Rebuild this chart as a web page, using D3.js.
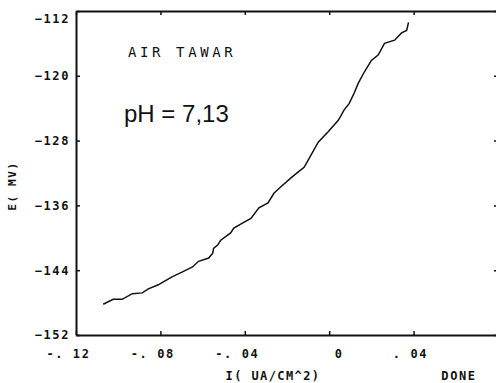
<!DOCTYPE html>
<html>
<head>
<meta charset="utf-8">
<script src="https://cdn.jsdelivr.net/npm/d3@7"></script>
<style>
  body { margin: 0; background: #fff; }
  svg { display: block; }
  .pix { font-family: "DejaVu Sans Mono", monospace; font-weight: bold; fill: #111; }
</style>
</head>
<body>
<svg id="chart" width="496" height="383"></svg>
<script>
const width = 496, height = 383;
const margin = { top: 11, right: -2, bottom: 48, left: 76 };

// current density I (uA/cm^2)
const currentI = [
  -0.1071, -0.1024, -0.0981, -0.0933, -0.0886, -0.0857, -0.0810, -0.0790,
  -0.0743, -0.0695, -0.0648, -0.0619, -0.0571, -0.0552, -0.0548, -0.0529,
  -0.0514, -0.0467, -0.0452, -0.0405, -0.0371, -0.0333, -0.0290, -0.0262,
  -0.0229, -0.0181, -0.0148, -0.0119, -0.0095, -0.0052, -0.0005, 0.0043,
  0.0071, 0.0095, 0.0119, 0.0138, 0.0167, 0.0200, 0.0233, 0.0262,
  0.0310, 0.0343, 0.0367, 0.0376
];
// potential E (mV)
const potentialE = [
  -148.2, -147.6, -147.6, -146.9, -146.8, -146.3, -145.8, -145.5,
  -144.8, -144.2, -143.6, -142.9, -142.5, -141.9, -141.3, -140.9,
  -140.3, -139.4, -138.8, -138.1, -137.6, -136.3, -135.7, -134.5,
  -133.7, -132.6, -131.9, -131.3, -130.2, -128.2, -126.9, -125.5,
  -124.2, -123.4, -122.1, -120.9, -119.5, -118.1, -117.4, -116.0,
  -115.6, -114.7, -114.4, -113.4
];

const xTicks = [-0.12, -0.08, -0.04, 0, 0.04];
const yTicks = [-152, -144, -136, -128, -120, -112];

const svg = d3.select("#chart");

const x = d3.scaleLinear()
  .domain([-0.12, 0.08])
  .range([margin.left, width - margin.right]);
const y = d3.scaleLinear()
  .domain([-152, -112])
  .range([height - margin.bottom, margin.top]);

const fmtX = d => d === 0 ? "0" : (d < 0 ? "-" : "") + ". " + String(Math.round(Math.abs(d) * 100)).padStart(2, "0");

function styleAxis(g) {
  g.select(".domain").attr("stroke", "#111").attr("stroke-width", 2);
  g.selectAll(".tick line").attr("stroke", "#111").attr("stroke-width", 1.5);
}

// bottom axis
const gx = svg.append("g")
  .attr("transform", `translate(0,${y(-152)})`)
  .call(d3.axisBottom(x).tickValues(xTicks).tickFormat(fmtX).tickSizeInner(-4).tickSizeOuter(0).tickPadding(14));
styleAxis(gx);
gx.selectAll("text")
  .attr("class", "pix")
  .attr("text-anchor", "end")
  .attr("dx", 14)
  .style("font-size", "12px")
  .style("letter-spacing", "1.6px");

// top axis
const gt = svg.append("g")
  .attr("transform", `translate(0,${y(-112)})`)
  .call(d3.axisTop(x).tickValues(xTicks).tickFormat("").tickSizeInner(-4).tickSizeOuter(0));
styleAxis(gt);

// left axis
const gy = svg.append("g")
  .attr("transform", `translate(${x(-0.12)},0)`)
  .call(d3.axisLeft(y).tickValues(yTicks).tickFormat(d3.format("d")).tickSizeInner(-4).tickSizeOuter(0).tickPadding(6));
styleAxis(gy);
gy.selectAll("text")
  .attr("class", "pix")
  .style("font-size", "12px")
  .style("letter-spacing", "1.6px")
  .attr("y", d => d === -112 ? 8 : 0);

// right axis (line just off the page, only the ticks show)
const gr = svg.append("g")
  .attr("transform", `translate(${width + 2},0)`)
  .call(d3.axisRight(y).tickValues(yTicks).tickFormat("").tickSizeInner(-4).tickSizeOuter(0));
styleAxis(gr);

// trace
const line = d3.line()
  .x((d, i) => x(currentI[i]))
  .y(d => y(d));

svg.append("path")
  .datum(potentialE)
  .attr("fill", "none")
  .attr("stroke", "#111")
  .attr("stroke-width", 1.5)
  .attr("d", line);

// labels
svg.append("text")
  .attr("class", "pix")
  .attr("x", 128).attr("y", 57)
  .style("font-weight", "normal")
  .style("font-size", "14px")
  .style("letter-spacing", "3.6px")
  .text("AIR TAWAR");

svg.append("text")
  .attr("x", 124).attr("y", 122)
  .style("font-family", "Liberation Sans, Arial, sans-serif")
  .style("font-size", "24px")
  .style("fill", "#111")
  .text("pH = 7,13");

svg.append("text")
  .attr("class", "pix")
  .attr("x", 273).attr("y", 380)
  .attr("text-anchor", "middle")
  .style("font-size", "12px")
  .style("letter-spacing", "1.4px")
  .text("I( UA/CM^2)");

svg.append("text")
  .attr("class", "pix")
  .attr("x", 459).attr("y", 380)
  .attr("text-anchor", "middle")
  .style("font-size", "12px")
  .style("letter-spacing", "1.6px")
  .text("DONE");

svg.append("text")
  .attr("class", "pix")
  .attr("transform", "translate(16,186) rotate(-90)")
  .attr("text-anchor", "middle")
  .style("font-size", "11px")
  .style("letter-spacing", "1.6px")
  .text("E( MV)");
</script>
</body>
</html>
